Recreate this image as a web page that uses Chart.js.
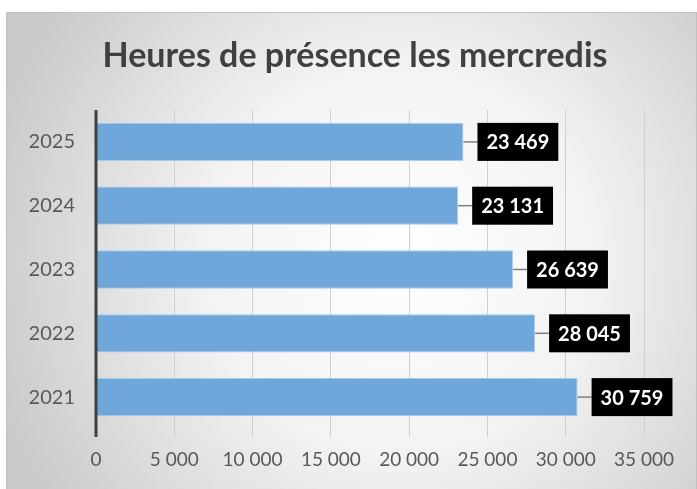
<!DOCTYPE html>
<html lang="fr">
<head>
    <meta charset="UTF-8">
    <title>Heures de présence les mercredis</title>
    <script src="https://cdn.jsdelivr.net/npm/chart.js"></script>
    <style>
        body { margin: 0; background: #fff; }
    </style>
</head>
<body>

<canvas id="chart" width="697" height="489"></canvas>

<script>
    // Données
    const titre = 'Heures de présence les mercredis';
    const annees = ['2025', '2024', '2023', '2022', '2021'];
    const heures = [23469, 23131, 26639, 28045, 30759];
    const graduations = [0, 5000, 10000, 15000, 20000, 25000, 30000, 35000];

    // 30759 -> "30 759"
    const formatFr = v => String(v).replace(/\B(?=(\d{3})+(?!\d))/g, ' ');

    // fond dégradé + cadre + titre
    const fond = {
        id: 'fond',
        beforeDraw(chart) {
            const ctx = chart.ctx;
            const x = 6, y = 12, w = chart.width - 6, h = chart.height - 12;
            const g = ctx.createRadialGradient(400, 260, 0, 400, 260, 430);
            g.addColorStop(0, '#ffffff');
            g.addColorStop(0.45, '#f3f3f3');
            g.addColorStop(1, '#c9c9c9');
            ctx.save();
            ctx.fillStyle = g;
            ctx.fillRect(x, y, w, h);
            ctx.strokeStyle = '#c0c0c0';
            ctx.lineWidth = 1;
            ctx.strokeRect(x + 0.5, y + 0.5, w - 1, h);

            ctx.fillStyle = '#404040';
            ctx.font = 'bold 34px Lato';
            ctx.textAlign = 'center';
            ctx.textBaseline = 'alphabetic';
            ctx.fillText(titre, 355, 67);
            ctx.restore();
        }
    };

    // axe vertical + étiquettes noires
    const etiquettes = {
        id: 'etiquettes',
        afterDatasetsDraw(chart) {
            const ctx = chart.ctx;
            const area = chart.chartArea;
            ctx.save();
            ctx.strokeStyle = '#404040';
            ctx.lineWidth = 3;
            ctx.beginPath();
            ctx.moveTo(area.left, area.top);
            ctx.lineTo(area.left, area.bottom + 8);
            ctx.stroke();

            ctx.font = 'bold 20px Lato';
            ctx.textAlign = 'center';
            ctx.textBaseline = 'middle';
            chart.getDatasetMeta(0).data.forEach((bar, i) => {
                const txt = formatFr(heures[i]);
                const gap = 14;
                const bw = ctx.measureText(txt).width + 18;
                const bh = 38;
                ctx.strokeStyle = '#7f7f7f';
                ctx.lineWidth = 1.5;
                ctx.beginPath();
                ctx.moveTo(bar.x, bar.y);
                ctx.lineTo(bar.x + gap, bar.y);
                ctx.stroke();
                ctx.fillStyle = '#000';
                ctx.fillRect(bar.x + gap, bar.y - bh / 2, bw, bh);
                ctx.fillStyle = '#fff';
                ctx.fillText(txt, bar.x + gap + bw / 2, bar.y + 1);
            });
            ctx.restore();
        }
    };

    new Chart(document.getElementById('chart'), {
        type: 'bar',
        data: {
            labels: annees,
            datasets: [{
                data: heures,
                backgroundColor: '#6fa7da',
                borderColor: '#a9cbea',
                borderWidth: 1,
                categoryPercentage: 1,
                barPercentage: 0.6
            }]
        },
        options: {
            indexAxis: 'y',
            responsive: false,
            animation: false,
            layout: { padding: { left: 0, right: 53, top: 110, bottom: 0 } },
            plugins: {
                legend: { display: false },
                tooltip: { enabled: false },
                title: { display: false }
            },
            scales: {
                x: {
                    min: 0,
                    max: 35000,
                    afterBuildTicks: s => { s.ticks = graduations.map(v => ({ value: v })); },
                    afterFit: s => { s.height = 60; },
                    grid: { color: '#d0d0d0', tickLength: 8 },
                    border: { display: false },
                    ticks: {
                        color: '#595959',
                        font: { family: 'Lato', size: 19 },
                        padding: 11,
                        maxRotation: 0,
                        callback: v => formatFr(v)
                    }
                },
                y: {
                    afterFit: s => { s.width = 96; },
                    grid: { display: false, drawTicks: false },
                    border: { display: false },
                    ticks: {
                        color: '#595959',
                        font: { family: 'Lato', size: 20 },
                        padding: 21
                    }
                }
            }
        },
        plugins: [fond, etiquettes]
    });
</script>

</body>
</html>
